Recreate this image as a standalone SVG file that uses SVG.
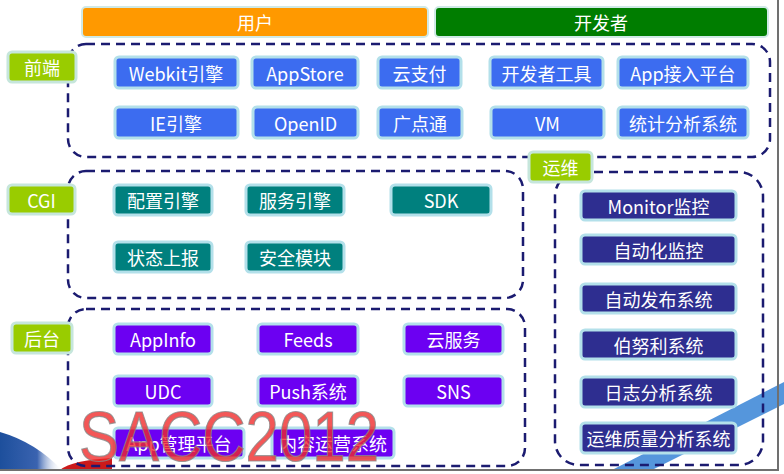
<svg xmlns="http://www.w3.org/2000/svg" width="784" height="474" viewBox="0 0 784 474">
<style>
.t{font-family:"Noto Sans CJK SC","Liberation Sans",sans-serif;fill:#ffffff;text-anchor:middle;dominant-baseline:central;font-size:18px}
.bar{font-size:18px}
.btn{stroke:#b3e0ea;stroke-width:3}
.fe{fill:#3c6cf0}
.cg{fill:#00807e}
.be{fill:#6c00f2}
.op{fill:#2e2e90}
.lab{fill:#99cc00;stroke:#c6e6dc;stroke-width:3}
.dash{fill:none;stroke:#1b1b70;stroke-width:2.5;stroke-dasharray:9 6}
</style>
<defs>
<linearGradient id="sw" x1="0" y1="0" x2="1" y2="0">
<stop offset="0" stop-color="#1d4f9c"/>
<stop offset="0.6" stop-color="#3a63b0"/>
<stop offset="1" stop-color="#ffffff" stop-opacity="0"/>
</linearGradient>
</defs>
<rect x="0" y="0" width="784" height="474" fill="#ffffff"/>
<g id="decor">
<polygon points="612,470 784,382 784,404 652,470" fill="#5596dc"/>
<path d="M0,432 Q35,442 62,470 L0,470 Z" fill="url(#sw)"/>
<path d="M60,470 Q72,460 112,458 L112,470 Z" fill="#cc1a1a"/>
<line x1="778" y1="0" x2="778" y2="471" stroke="#707070" stroke-width="2"/>
<line x1="0" y1="470" x2="779" y2="470" stroke="#707070" stroke-width="2"/>
</g>
<g id="top-bars">
<g id="user"><rect x="82" y="7" width="346" height="30" rx="4" fill="#ff9900" stroke="#cfe9e6" stroke-width="2"/><text class="t bar" x="255" y="22">用户</text></g>
<g id="developer"><rect x="435" y="7" width="333" height="30" rx="4" fill="#007d00" stroke="#cfe9e6" stroke-width="2"/><text class="t bar" x="601" y="22">开发者</text></g>
</g>
<g id="connectors">
<rect class="dash" x="68" y="44" width="702" height="113" rx="18"/>
<rect class="dash" x="68" y="171" width="455" height="127" rx="18"/>
<rect class="dash" x="68" y="309" width="457" height="157" rx="18"/>
<rect class="dash" x="555" y="172" width="208" height="293" rx="24"/>
</g>
<g id="front">
<g id="lab-front"><rect class="lab" x="8" y="52" width="68" height="30" rx="4"/><text class="t" x="42" y="67">前端</text></g>
<g id="webkit"><rect class="btn fe" x="115" y="57" width="123" height="31" rx="4"/><text class="t" x="176" y="72.5">Webkit引擎</text></g>
<g id="appstore"><rect class="btn fe" x="252" y="57" width="106" height="31" rx="4"/><text class="t" x="305" y="72.5">AppStore</text></g>
<g id="yunzhifu"><rect class="btn fe" x="378" y="57" width="83" height="31" rx="4"/><text class="t" x="419.5" y="72.5">云支付</text></g>
<g id="devtools"><rect class="btn fe" x="490" y="57" width="113" height="31" rx="4"/><text class="t" x="546.5" y="72.5">开发者工具</text></g>
<g id="appaccess"><rect class="btn fe" x="618" y="57" width="130" height="31" rx="4"/><text class="t" x="683" y="72.5">App接入平台</text></g>
<g id="ie"><rect class="btn fe" x="115" y="107" width="123" height="31" rx="4"/><text class="t" x="176" y="122.5">IE引擎</text></g>
<g id="openid"><rect class="btn fe" x="253" y="107" width="105" height="31" rx="4"/><text class="t" x="305.5" y="122.5">OpenID</text></g>
<g id="gdt"><rect class="btn fe" x="378" y="107" width="84" height="31" rx="4"/><text class="t" x="420" y="122.5">广点通</text></g>
<g id="vm"><rect class="btn fe" x="491" y="107" width="113" height="31" rx="4"/><text class="t" x="547.5" y="122.5">VM</text></g>
<g id="stats"><rect class="btn fe" x="618" y="107" width="130" height="31" rx="4"/><text class="t" x="683" y="122.5">统计分析系统</text></g>
</g>
<g id="cgi">
<g id="lab-cgi"><rect class="lab" x="8" y="185" width="67" height="29" rx="4"/><text class="t" x="41.5" y="199.5">CGI</text></g>
<g id="config"><rect class="btn cg" x="114" y="185" width="98" height="30" rx="4"/><text class="t" x="163" y="200">配置引擎</text></g>
<g id="service"><rect class="btn cg" x="246" y="185" width="98" height="30" rx="4"/><text class="t" x="295" y="200">服务引擎</text></g>
<g id="sdk"><rect class="btn cg" x="391" y="185" width="100" height="30" rx="4"/><text class="t" x="441" y="200">SDK</text></g>
<g id="status"><rect class="btn cg" x="114" y="242" width="98" height="30" rx="4"/><text class="t" x="163" y="257">状态上报</text></g>
<g id="security"><rect class="btn cg" x="246" y="242" width="98" height="30" rx="4"/><text class="t" x="295" y="257">安全模块</text></g>
</g>
<g id="backend">
<g id="lab-backend"><rect class="lab" x="12" y="323" width="60" height="30" rx="4"/><text class="t" x="42" y="338">后台</text></g>
<g id="appinfo"><rect class="btn be" x="114" y="324" width="98" height="30" rx="4"/><text class="t" x="163" y="339">AppInfo</text></g>
<g id="feeds"><rect class="btn be" x="258" y="324" width="100" height="30" rx="4"/><text class="t" x="308" y="339">Feeds</text></g>
<g id="cloudsvc"><rect class="btn be" x="404" y="324" width="99" height="30" rx="4"/><text class="t" x="453.5" y="339">云服务</text></g>
<g id="udc"><rect class="btn be" x="114" y="376" width="98" height="30" rx="4"/><text class="t" x="163" y="391">UDC</text></g>
<g id="push"><rect class="btn be" x="258" y="376" width="100" height="30" rx="4"/><text class="t" x="308" y="391">Push系统</text></g>
<g id="sns"><rect class="btn be" x="404" y="376" width="99" height="30" rx="4"/><text class="t" x="453.5" y="391">SNS</text></g>
<g id="appmgr"><rect class="btn be" x="114" y="428" width="130" height="30" rx="4"/><text class="t" x="179" y="443">App管理平台</text></g>
<g id="content"><rect class="btn be" x="272" y="428" width="122" height="30" rx="4"/><text class="t" x="333" y="443">内容运营系统</text></g>
</g>
<g id="ops">
<g id="lab-ops"><rect class="lab" x="529" y="152" width="63" height="30" rx="4"/><text class="t" x="560.5" y="167">运维</text></g>
<g id="monitor"><rect class="btn op" x="581" y="191" width="155" height="29" rx="4"/><text class="t" x="658.5" y="205.5">Monitor监控</text></g>
<g id="automon"><rect class="btn op" x="581" y="235" width="155" height="29" rx="4"/><text class="t" x="658.5" y="249.5">自动化监控</text></g>
<g id="autopub"><rect class="btn op" x="581" y="284" width="155" height="29" rx="4"/><text class="t" x="658.5" y="298.5">自动发布系统</text></g>
<g id="bernoulli"><rect class="btn op" x="581" y="330" width="155" height="29" rx="4"/><text class="t" x="658.5" y="344.5">伯努利系统</text></g>
<g id="logs"><rect class="btn op" x="581" y="377" width="155" height="30" rx="4"/><text class="t" x="658.5" y="392">日志分析系统</text></g>
<g id="opsquality"><rect class="btn op" x="581" y="423" width="155" height="30" rx="4"/><text class="t" x="658.5" y="438">运维质量分析系统</text></g>
</g>
<text id="watermark" x="79" y="461" font-family="Liberation Sans, Arial, sans-serif" font-size="70" textLength="300" lengthAdjust="spacingAndGlyphs" fill="#f02828" fill-opacity="0.78" stroke="#8a8a8a" stroke-width="1.2" stroke-opacity="0.8">SACC2012</text>
</svg>
